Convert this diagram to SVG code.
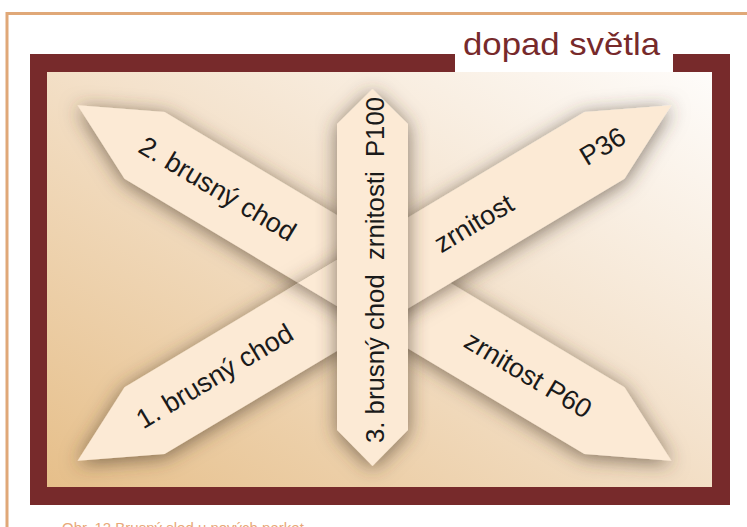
<svg xmlns="http://www.w3.org/2000/svg" xmlns:xlink="http://www.w3.org/1999/xlink" width="747" height="527" viewBox="0 0 747 527">
<style>
.arrow{fill:#fcead5}
.lbl{font-family:"Liberation Sans",Arial,sans-serif;font-size:27px;fill:#1a1a1a;text-anchor:middle}
.vlbl{font-family:"Liberation Sans",Arial,sans-serif;font-size:25px;fill:#1a1a1a;text-anchor:middle;white-space:pre}
.title{font-family:"Liberation Sans",Arial,sans-serif;font-size:32px;fill:#772a2b}
.cap{font-family:"Liberation Sans",Arial,sans-serif;font-size:15px;fill:#e8a878}
</style>
<defs>
<linearGradient id="bg" x1="0" y1="1" x2="1" y2="0">
<stop offset="0" stop-color="#e6bf8a"/>
<stop offset="0.55" stop-color="#f4e2cc"/>
<stop offset="1" stop-color="#fefcfa"/>
</linearGradient>
<filter id="sh" x="-30%" y="-30%" width="160%" height="160%">
<feGaussianBlur in="SourceAlpha" stdDeviation="10" result="b"/>
<feOffset in="b" dx="0" dy="3" result="o"/>
<feFlood flood-color="#4a3a2a" flood-opacity="0.68"/>
<feComposite in2="o" operator="in" result="s"/>
<feMerge><feMergeNode in="s"/><feMergeNode in="SourceGraphic"/></feMerge>
</filter>
<polygon id="band" points="-346,0 -268,-39 268,-39 346,0 268,39 -268,39"/>
<clipPath id="band2c"><use xlink:href="#band" transform="translate(374.5,283) rotate(-30.9)"/></clipPath>
<clipPath id="leftc"><rect x="0" y="0" width="373" height="527"/></clipPath>
</defs>

<g id="page">
<path d="M7,527 V13.5 H747" fill="none" stroke="#e0a878" stroke-width="3"/>
<rect x="30" y="54" width="700" height="451" fill="#772a2b"/>
<rect x="47" y="72" width="665" height="415" fill="url(#bg)"/>
<rect x="455" y="50" width="218" height="22" fill="#ffffff"/>
<text class="title" x="463" y="55" textLength="197" lengthAdjust="spacingAndGlyphs">dopad světla</text>
<text class="cap" x="62" y="533">Obr. 12  Brusný sled u nových parket</text>
</g>

<g id="band-1" filter="url(#sh)">
<use xlink:href="#band" class="arrow" transform="translate(374.5,283) rotate(30.9)"/>
</g>
<g id="band-2" filter="url(#sh)">
<use xlink:href="#band" class="arrow" transform="translate(374.5,283) rotate(-30.9)"/>
</g>
<g id="band-1-overlap" clip-path="url(#leftc)">
<g clip-path="url(#band2c)">
<g filter="url(#sh)">
<use xlink:href="#band" class="arrow" transform="translate(374.5,283) rotate(30.9)"/>
</g>
</g>
</g>

<g id="band-labels">
<g transform="translate(374.5,283) rotate(30.9)">
<text class="lbl" x="-183" y="9">2. brusný chod</text>
<text class="lbl" x="179" y="9">zrnitost P60</text>
</g>
<g transform="translate(374.5,283) rotate(-30.9)">
<text class="lbl" x="-185" y="7">1. brusný chod</text>
<text class="lbl" x="116" y="9">zrnitost</text>
<text class="lbl" x="266" y="9">P36</text>
</g>
</g>

<g id="arrow-3">
<g filter="url(#sh)">
<polygon class="arrow" points="372.5,89 408,124 408,430 372.5,466 337,430 337,124"/>
</g>
<text class="vlbl" transform="translate(384,270) rotate(-90)" x="0" y="0" textLength="346" lengthAdjust="spacingAndGlyphs" xml:space="preserve">3. brusný chod  zrnitosti  P100</text>
</g>
</svg>
